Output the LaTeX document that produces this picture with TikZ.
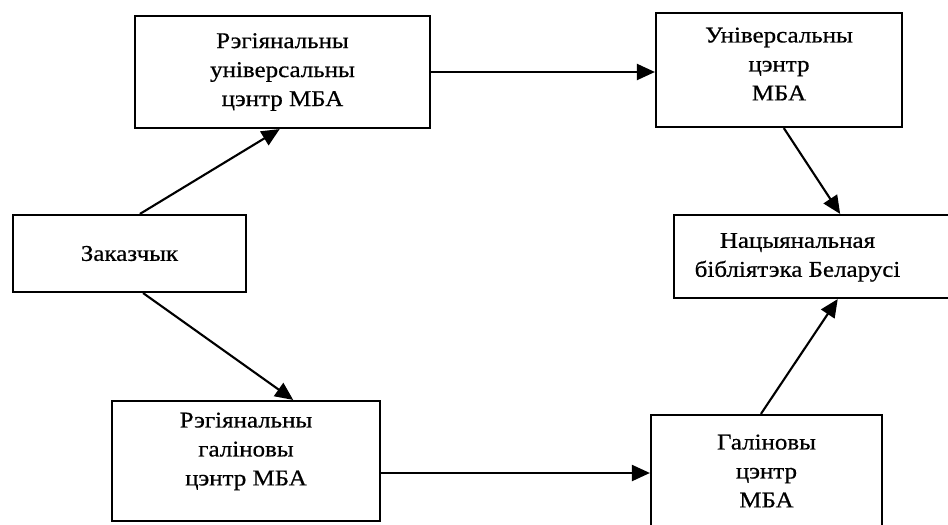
\documentclass[tikz,border=0pt]{standalone}
\usepackage{fontspec}
\setmainfont{Liberation Serif}[FakeStretch=1.11, FakeBold=0.6]
\usetikzlibrary{arrows.meta, positioning}

\begin{document}
\begin{tikzpicture}[x=0.025cm, y=-0.025cm,
  bloc/.style={rectangle, draw=black, line width=1.5pt, fill=white, align=center,
               inner sep=2pt, font=\fontsize{16}{20.6}\selectfont},
  arr/.style={-{Triangle[length=0.45cm, width=0.4cm]}, line width=1.5pt, black}]
\useasboundingbox (0,0) rectangle (948,525);
% блокі
\node[bloc, minimum width=7.375cm, minimum height=2.8cm] (regU) at (282.5,72)
  {Рэгіянальны\\універсальны\\цэнтр МБА};
\node[bloc, minimum width=6.15cm, minimum height=2.85cm, text depth=0.3cm] (univ) at (779,70)
  {Універсальны\\цэнтр\\МБА};
\node[bloc, minimum width=5.825cm, minimum height=1.925cm] (zak) at (129.5,253.5)
  {Заказчык};
\node[bloc, minimum width=7.275cm, minimum height=2.075cm] (nat) at (819.5,256.5)
  {\begin{tabular}{@{}c@{}}Нацыянальная\\бібліятэка Беларусі\end{tabular}\hspace{1.1cm}};
\node[bloc, minimum width=6.7cm, minimum height=3cm, text depth=0.6cm] (regG) at (246,461)
  {Рэгіянальны\\галіновы\\цэнтр МБА};
\node[bloc, minimum width=5.775cm, minimum height=2.8cm] (gal) at (766.5,471)
  {Галіновы\\цэнтр\\МБА};
% сувязі
\draw[arr] ([xshift=0.26cm]zak.north) -- ([xshift=-0.07cm]regU.south);
\draw[arr] ([xshift=0.34cm]zak.south) -- ([xshift=1.18cm]regG.north);
\draw[arr] (regU.east) -- (regU.east -| univ.west);
\draw[arr] ([xshift=0.12cm]univ.south) -- ([xshift=4.18cm]nat.north west);
\draw[arr] ([yshift=-0.3cm]regG.east) -- ([yshift=-0.3cm]regG.east -| gal.west);
\draw[arr] ([xshift=-0.14cm]gal.north) -- ([xshift=4.12cm]nat.south west);
\end{tikzpicture}
\end{document}
